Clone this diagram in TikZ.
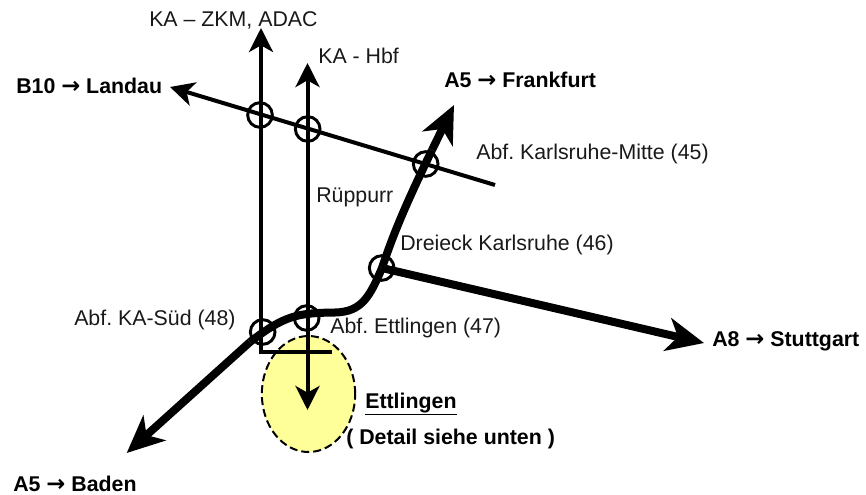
\documentclass[tikz,border=0pt]{standalone}
\usepackage{fontspec}
\setmainfont{Liberation Sans}
\newfontfamily\symf{DejaVu Sans}
\usetikzlibrary{arrows.meta,shapes.geometric}
\definecolor{paleY}{RGB}{255,255,153}
\newcommand{\arr}{{\symf\bfseries\fontsize{17}{18}\selectfont →}}
\frenchspacing
\tikzset{
  lbl/.style={font=\fontsize{16}{18}\selectfont,inner sep=0pt,anchor=west,text=black!90},
  blbl/.style={font=\fontsize{16}{18}\selectfont\bfseries,inner sep=0pt,anchor=west},
  thinhead/.tip={Stealth[length=18pt,width=18pt,inset=5pt]},
  thickhead/.tip={Stealth[length=28pt,width=25pt,inset=8pt]},
  road/.style={line width=3pt,-thinhead},
  both road/.style={line width=3pt,thinhead-thinhead},
  thick road/.style={line width=6pt,-thickhead},
  plainroad/.style={line width=3pt},
  ring/.style={circle,draw,line width=2.2pt,minimum size=18.5pt,inner sep=0pt},
  town/.style={ellipse,draw,dash pattern=on 6pt off 3pt,fill=paleY,line width=1.5pt}
}
\begin{document}
\begin{tikzpicture}[x=0.75pt,y=-0.75pt]
\useasboundingbox (0,0) rectangle (866,495);
% town
\node[town,minimum width=70pt,minimum height=87pt,inner sep=0pt] (town) at (308.5,394) {};
% points
\coordinate (zkmtop) at (261,28);
\coordinate (hbftop) at (307.5,63);
\coordinate (corner) at (261,352);
\coordinate (barend) at (330,352);
\coordinate (hbfend) at (307.5,410);
\coordinate (b10a) at (495,185);
\coordinate (b10b) at (170,87);
\coordinate (baden) at (126.7,453);
\coordinate (frank) at (454,105);
\coordinate (stutt) at (704,343);
\coordinate (dreieck) at (382,268);
\coordinate (bend1) at (250,342);
\coordinate (bend2) at (432,150);
% thin roads
\draw[plainroad,line cap=rect] (barend) -- (corner);
\draw[road] (corner) -- (zkmtop);
\draw[both road] (hbfend) -- (hbftop);
\draw[road] (b10a) -- (b10b);
% thick roads
\draw[line width=6pt] (dreieck) .. controls (370,296) and (362,312) .. (335,312.5)
  .. controls (298,313) and (285,315) .. (bend1);
\draw[thick road] (bend1) -- (baden);
\draw[line width=6pt] (dreieck) .. controls (392,238) and (403,210) .. (bend2);
\draw[thick road] (bend2) -- (frank);
\draw[thick road] (dreieck) -- (stutt);
% rings
\node[ring] (r1) at (260,115) {};
\node[ring] (r2) at (307.7,129) {};
\node[ring] (r3) at (425.7,164) {};
\node[ring] (r4) at (381.7,268) {};
\node[ring] (r5) at (262.7,332) {};
\node[ring] (r6) at (306.7,318) {};
% labels
\node[lbl] (t1) at (149,20) {KA – ZKM, ADAC};
\node[lbl] (t2) at (318,56) {KA - Hbf};
\node[blbl] (t3) at (16,86) {B10 \arr\ Landau};
\node[blbl] (t4) at (444,80) {A5 \arr\ Frankfurt};
\node[lbl] (t5) at (476,154) {Abf. Karlsruhe-Mitte (45)};
\node[lbl] (t6) at (316,197) {Rüppurr};
\node[lbl] (t7) at (400,245) {Dreieck Karlsruhe (46)};
\node[lbl] (t8) at (74,320) {Abf. KA-Süd (48)};
\node[lbl] (t9) at (330,328) {Abf. Ettlingen (47)};
\node[blbl] (t10) at (712,341) {A8 \arr\ Stuttgart};
\node[blbl] (t11) at (365,404) {\underline{Ettlingen}};
\node[blbl] (t12) at (346,439) {( Detail siehe unten )};
\node[blbl] (t13) at (13,483.5) {A5 \arr\ Baden};
\end{tikzpicture}
\end{document}
